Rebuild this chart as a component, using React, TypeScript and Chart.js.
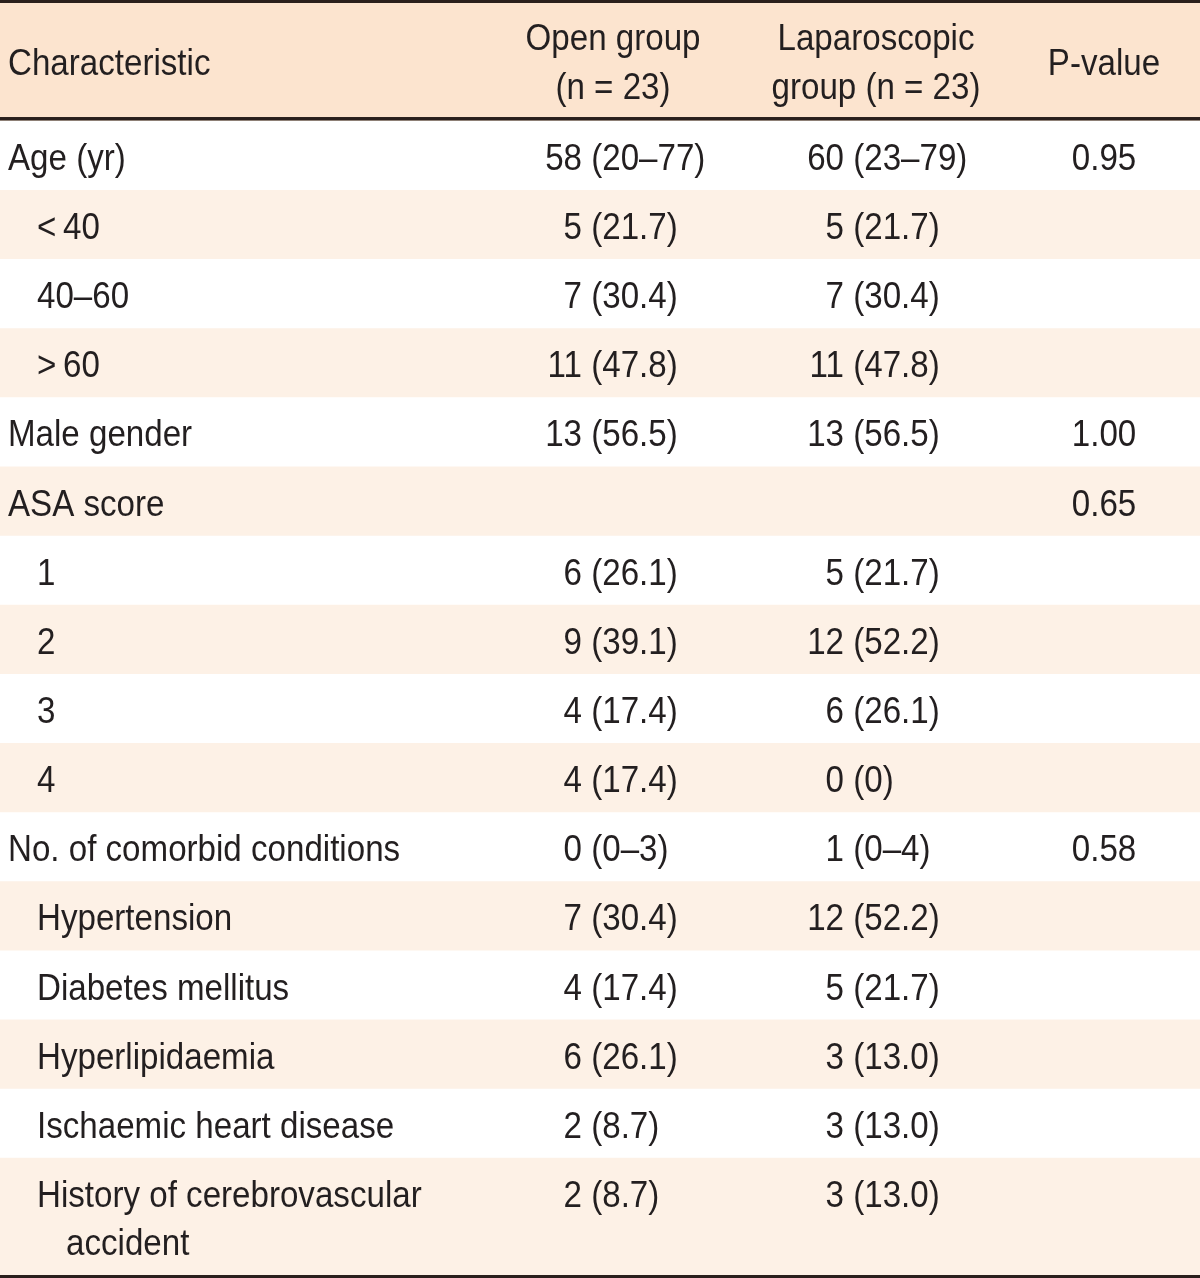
import React, { useEffect, useRef } from 'react';
import { Chart, registerables } from 'chart.js';

Chart.register(...registerables);

// ---------- data ----------
const headerCharacteristic = 'Characteristic';
const headerOpen = ['Open group', '(n = 23)'];
const headerLap = ['Laparoscopic', 'group (n = 23)'];
const headerP = 'P-value';

const characteristics = [
  'Age (yr)',
  '<\u200940',
  '40–60',
  '>\u200960',
  'Male gender',
  'ASA score',
  '1',
  '2',
  '3',
  '4',
  'No. of comorbid conditions',
  'Hypertension',
  'Diabetes mellitus',
  'Hyperlipidaemia',
  'Ischaemic heart disease',
  'History of cerebrovascular\naccident',
];

const indentLevels = [0, 1, 1, 1, 0, 0, 1, 1, 1, 1, 0, 1, 1, 1, 1, 1];

const openGroup = [
  '58 (20–77)', '5 (21.7)', '7 (30.4)', '11 (47.8)', '13 (56.5)', '',
  '6 (26.1)', '9 (39.1)', '4 (17.4)', '4 (17.4)', '0 (0–3)',
  '7 (30.4)', '4 (17.4)', '6 (26.1)', '2 (8.7)', '2 (8.7)',
];

const lapGroup = [
  '60 (23–79)', '5 (21.7)', '7 (30.4)', '11 (47.8)', '13 (56.5)', '',
  '5 (21.7)', '12 (52.2)', '6 (26.1)', '0 (0)', '1 (0–4)',
  '12 (52.2)', '5 (21.7)', '3 (13.0)', '3 (13.0)', '3 (13.0)',
];

const pValues = [
  '0.95', '', '', '', '1.00', '0.65', '', '', '', '', '0.58', '', '', '', '', '',
];

// ---------- style / layout ----------
const FONT_SIZE = 36;
const X_SCALE = 0.92;
const FONT = `${FONT_SIZE}px "Liberation Sans", Arial, Helvetica, sans-serif`;
const TEXT_COLOR = '#231f20';
const RULE_COLOR = '#2a1f1c';
const HEADER_BG = '#fce4cf';
const STRIPE_BG = '#fdf1e6';
const PLAIN_BG = '#ffffff';
const EXTRA_LINE = 0.7; // row-height units added per extra text line
const HEADER_LINES = 2;

const COLS = {
  label: 8,
  indent: 29,
  openAnchor: 582,
  lapAnchor: 844,
  openHead: 613,
  lapHead: 876,
  p: 1104,
};

const lineCount = (s: string) => s.split('\n').length;
const unitsFor = (lines: number) => 1 + EXTRA_LINE * (lines - 1);

const headerUnits = unitsFor(HEADER_LINES);
const rowUnits = characteristics.map((c) => unitsFor(lineCount(c)));
const totalUnits = headerUnits + rowUnits.reduce((a, b) => a + b, 0);

function drawText(
  ctx: CanvasRenderingContext2D,
  text: string,
  x: number,
  baseline: number,
  align: 'left' | 'center' | 'right'
) {
  const w = ctx.measureText(text).width * X_SCALE;
  let x0 = x;
  if (align === 'center') x0 = x - w / 2;
  else if (align === 'right') x0 = x - w;
  ctx.save();
  ctx.translate(x0, baseline);
  ctx.scale(X_SCALE, 1);
  ctx.textAlign = 'left';
  ctx.textBaseline = 'alphabetic';
  ctx.fillText(text, 0, 0);
  ctx.restore();
}

function drawValue(ctx: CanvasRenderingContext2D, text: string, anchor: number, baseline: number) {
  if (!text) return;
  const first = text.split(' ')[0];
  const w = ctx.measureText(first).width * X_SCALE;
  drawText(ctx, text, anchor - w, baseline, 'left');
}

const tablePlugin = {
  id: 'tableText',
  afterDatasetsDraw(chart: any) {
    const { ctx, chartArea } = chart;
    const y = chart.scales.y;
    const left = chartArea.left;
    const width = chartArea.right - chartArea.left;
    const unitPx = y.getPixelForValue(1) - y.getPixelForValue(0);
    const lineGap = unitPx * EXTRA_LINE;
    const capHalf = FONT_SIZE * 0.358;

    ctx.save();
    // rules
    ctx.fillStyle = RULE_COLOR;
    const top = y.getPixelForValue(0);
    ctx.fillRect(left, top - 3, width, 3);
    const hb = y.getPixelForValue(headerUnits);
    ctx.fillRect(left, hb - 3.5, width, 3.5);
    const bottom = y.getPixelForValue(totalUnits);
    ctx.fillRect(left, bottom, width, 3);

    ctx.font = FONT;
    ctx.fillStyle = TEXT_COLOR;

    // header
    const hc = (top + hb) / 2;
    drawText(ctx, headerCharacteristic, left + COLS.label, hc + capHalf, 'left');
    const h1 = hc - lineGap / 2;
    const h2 = hc + lineGap / 2;
    drawText(ctx, headerOpen[0], left + COLS.openHead, h1 + capHalf, 'center');
    drawText(ctx, headerOpen[1], left + COLS.openHead, h2 + capHalf, 'center');
    drawText(ctx, headerLap[0], left + COLS.lapHead, h1 + capHalf, 'center');
    drawText(ctx, headerLap[1], left + COLS.lapHead, h2 + capHalf, 'center');
    drawText(ctx, headerP, left + COLS.p, hc + capHalf, 'center');

    // body
    let cum = headerUnits;
    characteristics.forEach((label, i) => {
      const y0 = y.getPixelForValue(cum);
      const firstCenter = y0 + unitPx / 2 + 2;
      const base = firstCenter + capHalf;
      label.split('\n').forEach((part, k) => {
        const indent = indentLevels[i] + (k > 0 ? 1 : 0);
        drawText(ctx, part, left + COLS.label + indent * COLS.indent, base + k * lineGap, 'left');
      });
      drawValue(ctx, openGroup[i], left + COLS.openAnchor, base);
      drawValue(ctx, lapGroup[i], left + COLS.lapAnchor, base);
      if (pValues[i]) drawText(ctx, pValues[i], left + COLS.p, base, 'center');
      cum += rowUnits[i];
    });
    ctx.restore();
  },
};

export default function App() {
  const canvasRef = useRef<HTMLCanvasElement | null>(null);

  useEffect(() => {
    document.body.style.margin = '0';
    const canvas = canvasRef.current;
    if (!canvas) return;

    const datasets = [
      {
        label: 'header',
        data: [headerUnits],
        backgroundColor: HEADER_BG,
      },
      ...characteristics.map((c, i) => ({
        label: c,
        data: [rowUnits[i]],
        backgroundColor: i % 2 === 0 ? PLAIN_BG : STRIPE_BG,
      })),
    ].map((d) => ({
      ...d,
      borderWidth: 0,
      barPercentage: 1,
      categoryPercentage: 1,
      stack: 'table',
    }));

    const chart = new Chart(canvas, {
      type: 'bar',
      data: { labels: ['table'], datasets },
      options: {
        animation: false,
        responsive: true,
        maintainAspectRatio: false,
        devicePixelRatio: 1,
        layout: { padding: { top: 3, bottom: 3, left: 0, right: 0 } },
        plugins: {
          legend: { display: false },
          tooltip: { enabled: false },
          title: { display: false },
        },
        scales: {
          x: { stacked: true, display: false, grid: { display: false } },
          y: {
            stacked: true,
            display: false,
            reverse: true,
            min: 0,
            max: totalUnits,
            grid: { display: false },
          },
        },
        events: [],
      },
      plugins: [tablePlugin],
    });

    return () => chart.destroy();
  }, []);

  return (
    <div style={{ position: 'absolute', left: 0, top: 0, width: 1200, height: 1278, background: '#ffffff' }}>
      <canvas ref={canvasRef} />
    </div>
  );
}
